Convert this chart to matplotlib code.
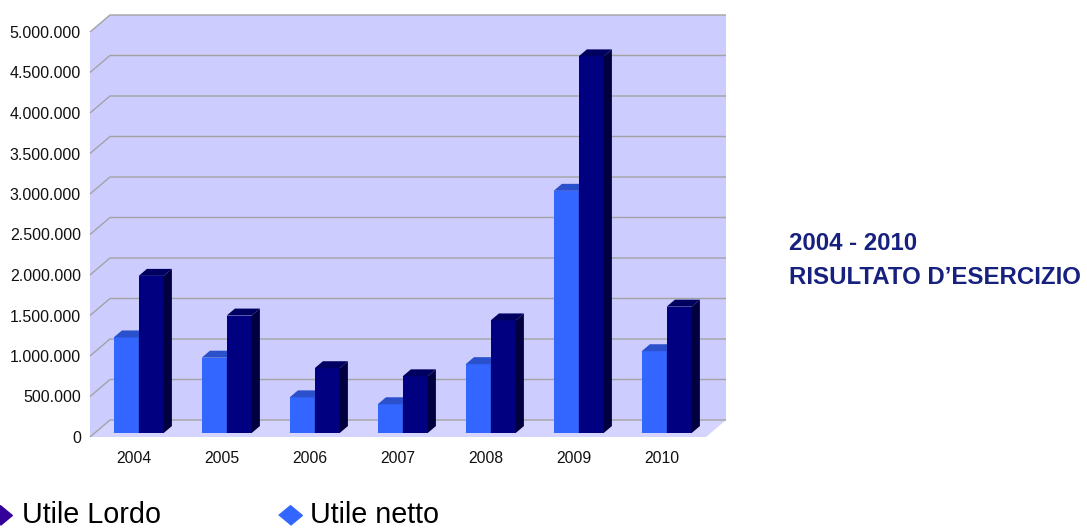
import matplotlib
matplotlib.use("Agg")
import matplotlib.pyplot as plt
from matplotlib.patches import Polygon
from matplotlib.lines import Line2D
import numpy as np

plt.rcParams['font.family'] = ['Liberation Sans', 'DejaVu Sans']

# ---- data ----
years = ['2004', '2005', '2006', '2007', '2008', '2009', '2010']
utile_netto = [1180000, 930000, 440000, 355000, 850000, 2990000, 1010000]
utile_lordo = [1940000, 1450000, 800000, 700000, 1390000, 4650000, 1560000]
yticks = [0, 500000, 1000000, 1500000, 2000000, 2500000, 3000000,
          3500000, 4000000, 4500000, 5000000]
ytick_labels = ['0', '500.000', '1.000.000', '1.500.000', '2.000.000', '2.500.000',
                '3.000.000', '3.500.000', '4.000.000', '4.500.000', '5.000.000']
legend_labels = ['Utile Lordo', 'Utile netto']
title_lines = ['2004 - 2010', 'RISULTATO D\u2019ESERCIZIO']

# ---- styling / geometry ----
W, H = 1087, 528
fig = plt.figure(figsize=(W / 100, H / 100), dpi=100)
px_per_cat = 88.0
px_per_val = 81.0 / 1e6
ax_l, ax_r, ax_b, ax_t = 90, 725, 437, 15
ax = fig.add_axes([ax_l / W, (H - ax_b) / H, (ax_r - ax_l) / W, (ax_b - ax_t) / H])
ax.set_xlim(-0.5, -0.5 + (ax_r - ax_l) / px_per_cat)
ax.set_ylim(0, (ax_b - ax_t) / px_per_val)
ax.patch.set_visible(False)
for s in ax.spines.values():
    s.set_visible(False)

DX = 20 / px_per_cat
DY = 17 / px_per_val
n = len(years)
x0w, x1w = -0.5, n - 0.5
vmax = yticks[-1]

wall_c = '#CCCCFF'
floor_c = '#D4D4FF'
grid_c = '#A3A3A3'

# walls and floor
ax.add_patch(Polygon([(x0w + DX, DY), (x1w + DX, DY), (x1w + DX, vmax + DY), (x0w + DX, vmax + DY)],
                     closed=True, fc=wall_c, ec='none', zorder=0, clip_on=False))
ax.add_patch(Polygon([(x0w, 0), (x0w + DX, DY), (x0w + DX, vmax + DY), (x0w, vmax)],
                     closed=True, fc=wall_c, ec='none', zorder=0, clip_on=False))
ax.add_patch(Polygon([(x0w, 0), (x1w, 0), (x1w + DX, DY), (x0w + DX, DY)],
                     closed=True, fc=floor_c, ec='none', zorder=0, clip_on=False))
# gridlines
for v in yticks:
    ax.plot([x0w, x0w + DX, x1w + DX], [v, v + DY, v + DY], color=grid_c, lw=1.0,
            zorder=1, clip_on=False, solid_capstyle='butt')

# bars
bw = 25 / px_per_cat
f0 = 0.235
fd = 0.41
sx, sy = f0 * DX, f0 * DY
ddx, ddy = fd * DX, fd * DY

series = [
    (utile_netto, -bw, '#3366FF', '#2B50CC', '#1F3D99'),
    (utile_lordo, 0.0, '#000080', '#000060', '#00003F'),
]
z = 2
for i in range(n):
    for vals, off, cf, ct, cs in series:
        x0 = i + off + sx
        x1 = x0 + bw
        b = sy
        t = sy + vals[i]
        ax.bar([x0], [vals[i]], width=bw, bottom=b, align='edge', color=cf,
               edgecolor='none', zorder=z, clip_on=False)
        ax.add_patch(Polygon([(x0, t), (x1, t), (x1 + ddx, t + ddy), (x0 + ddx, t + ddy)],
                             closed=True, fc=ct, ec='none', zorder=z, clip_on=False))
        ax.add_patch(Polygon([(x1, b), (x1, t), (x1 + ddx, t + ddy), (x1 + ddx, b + ddy)],
                             closed=True, fc=cs, ec='none', zorder=z, clip_on=False))
        z += 1

# ticks
ax.set_yticks(yticks)
ax.set_yticklabels(ytick_labels, fontsize=11.5, color='#111111')
ax.set_xticks(range(n))
ax.set_xticklabels(years, fontsize=11.3, color='#111111')
ax.tick_params(axis='y', length=0, pad=6.5)
ax.tick_params(axis='x', length=0, pad=10)

# legend
diamond = [(-1, 0), (0, 0.83), (1, 0), (0, -0.83)]
fig.add_artist(Line2D([0 / W], [(H - 515) / H], marker=diamond, markersize=17,
                      color='#330099', ls='none', transform=fig.transFigure))
fig.text(22 / W, (H - 515) / H, legend_labels[0], fontsize=20.7, va='center', ha='left',
         color='black')
fig.add_artist(Line2D([290 / W], [(H - 515) / H], marker=diamond, markersize=17,
                      color='#3366FF', ls='none', transform=fig.transFigure))
fig.text(310 / W, (H - 515) / H, legend_labels[1], fontsize=20.7, va='center', ha='left',
         color='black')

# right title
tc = '#16207E'
fig.text(789 / W, (H - 250) / H, title_lines[0], fontsize=17.3, fontweight='bold',
         color=tc, ha='left', va='baseline')
fig.text(789 / W, (H - 284) / H, title_lines[1], fontsize=17.3, fontweight='bold',
         color=tc, ha='left', va='baseline')

fig.savefig('out.png', dpi=100)
